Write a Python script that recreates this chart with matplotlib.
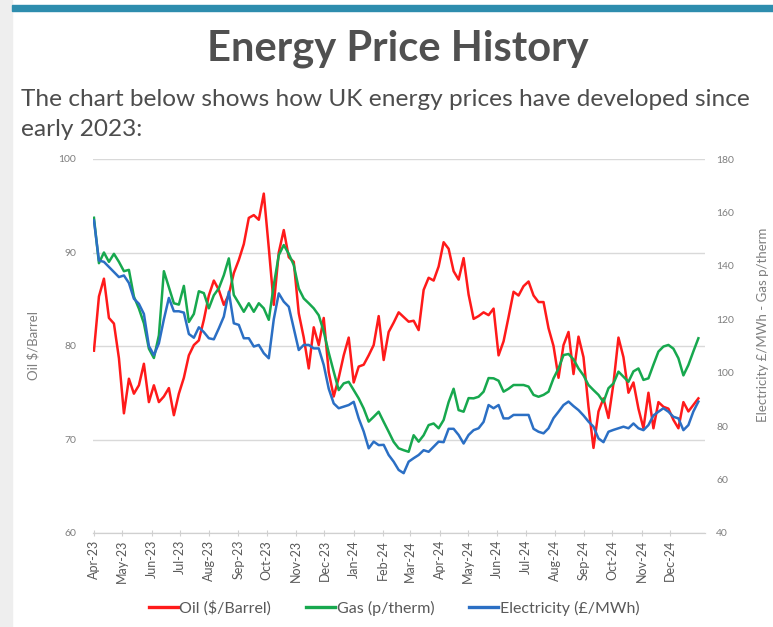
import pandas as pd
import matplotlib.pyplot as plt
import matplotlib.dates as mdates
from matplotlib.lines import Line2D
from matplotlib.patches import Rectangle

# series, roughly every 5 days from 1 Apr 2023 to 31 Dec 2024
oil = [79.5, 85.3, 87.2, 83.0, 82.4, 78.7, 72.8, 76.5, 74.9, 75.8,
       78.1, 74.0, 75.8, 74.0, 74.6, 75.5, 72.6, 74.9, 76.6, 79.0,
       80.1, 80.6, 82.8, 85.4, 87.0, 86.0, 84.4, 85.5, 87.8, 89.2,
       90.9, 93.7, 94.0, 93.5, 96.3, 90.5, 84.4, 90.0, 92.4, 89.5,
       89.0, 83.5, 80.9, 77.6, 82.0, 80.1, 83.0, 77.2, 74.6, 76.6,
       79.0, 80.9, 76.1, 77.8, 78.0, 79.0, 80.1, 83.2, 78.5, 81.5,
       82.5, 83.6, 83.1, 82.6, 82.7, 81.7, 86.0, 87.3, 87.0, 88.5,
       91.1, 90.4, 88.0, 87.1, 89.4, 85.5, 82.9, 83.2, 83.6, 83.3,
       84.0, 79.0, 80.5, 83.1, 85.8, 85.4, 86.4, 86.9, 85.4, 84.7,
       84.7, 81.9, 80.0, 76.6, 80.1, 81.5, 77.0, 81.0, 78.8, 73.5,
       69.1, 73.0, 74.4, 72.3, 76.0, 80.9, 78.8, 75.0, 76.1, 73.3,
       71.2, 75.0, 71.2, 74.0, 73.5, 73.3, 72.1, 71.2, 74.0, 73.0,
       73.7, 74.4]

gas = [158.0, 141.0, 145.0, 141.5, 144.5, 141.5, 138.0, 138.5, 128.5, 124.0,
       118.5, 109.0, 105.5, 114.0, 138.0, 132.0, 126.0, 125.5, 132.5, 119.0,
       122.0, 130.5, 129.8, 124.1, 129.0, 131.6, 136.5, 142.8, 129.1, 126.0,
       122.8, 126.0, 122.8, 126.0, 124.1, 119.8, 132.8, 144.0, 147.8, 144.5,
       140.3, 131.5, 127.8, 126.0, 124.1, 121.5, 115.4, 107.5, 100.4, 93.5,
       96.0, 96.6, 93.5, 90.4, 86.6, 81.7, 83.5, 85.4, 81.6, 77.9,
       74.1, 71.7, 71.0, 70.4, 76.6, 74.2, 76.6, 80.4, 81.0, 79.2,
       82.3, 89.0, 94.0, 86.0, 85.4, 90.5, 90.4, 91.0, 92.9, 98.0,
       97.9, 97.0, 92.9, 94.0, 95.4, 95.4, 95.4, 94.8, 91.7, 91.0,
       91.7, 92.9, 97.9, 101.6, 106.6, 107.0, 105.0, 101.6, 99.0, 95.4,
       93.5, 91.7, 89.0, 94.2, 96.0, 100.4, 98.5, 96.6, 100.5, 101.6,
       97.3, 97.9, 103.0, 107.9, 109.8, 110.4, 109.0, 105.4, 99.0, 102.9,
       108.0, 112.9]

electricity = [157.0, 142.0, 141.5, 139.6, 137.7, 135.8, 136.4, 133.6, 127.7, 125.8,
               122.0, 110.0, 106.6, 111.0, 120.0, 128.0, 123.0, 123.0, 122.5, 114.5,
               113.1, 117.0, 115.2, 112.9, 112.5, 116.6, 121.0, 130.3, 118.5, 117.9,
               112.9, 112.9, 109.8, 110.4, 107.3, 105.4, 120.0, 129.7, 126.6, 124.7,
               116.6, 108.5, 110.4, 110.4, 109.1, 109.1, 102.9, 94.0, 88.5, 86.7,
               87.3, 87.9, 89.1, 82.9, 78.0, 71.7, 74.2, 72.9, 73.0, 69.2,
               66.7, 63.6, 62.4, 66.7, 68.0, 69.2, 71.0, 70.4, 72.3, 74.2,
               74.0, 79.0, 79.0, 76.7, 73.5, 76.7, 78.5, 79.2, 81.6, 87.9,
               86.7, 87.9, 82.9, 82.9, 84.2, 84.2, 84.2, 84.2, 79.0, 77.9,
               77.3, 79.2, 83.0, 85.4, 87.9, 89.2, 87.5, 86.0, 84.0, 81.7,
               79.8, 75.4, 74.0, 77.9, 78.6, 79.2, 79.8, 79.2, 81.0, 79.2,
               78.5, 80.4, 84.0, 85.4, 86.7, 85.4, 83.5, 82.9, 78.5, 80.4,
               85.5, 89.2]

labels = ['Oil ($/Barrel)', 'Gas (p/therm)', 'Electricity (£/MWh)']
colors = ['#FF1A1A', '#17A84E', '#2B6FC4']

dates = pd.date_range('2023-04-01', '2024-12-31', periods=len(oil))

plt.rcParams['font.family'] = ['Lato', 'DejaVu Sans']

fig = plt.figure(figsize=(7.73, 6.27), dpi=100)
fig.patch.set_facecolor('white')

# page decoration: grey strip on the left, teal bar at the top
fig.patches.append(Rectangle((0, 0), 12 / 773, 1, transform=fig.transFigure,
                             color='#EEEEEE', zorder=0))
fig.patches.append(Rectangle((12 / 773, 1 - 11 / 627), 1, 6 / 627, transform=fig.transFigure,
                             color='#2E8DAE', zorder=0))

fig.text(0.515, 0.922, 'Energy Price History', ha='center', va='center',
         fontsize=30, fontweight='bold', color='#505050')
fig.text(0.027, 0.842, 'The chart below shows how UK energy prices have developed since',
         ha='left', va='center', fontsize=17.6, color='#4D4D4D')
fig.text(0.027, 0.794, 'early 2023:', ha='left', va='center', fontsize=17.6, color='#4D4D4D')

ax = fig.add_axes([93 / 773, 94 / 627, 612 / 773, 374 / 627])
ax2 = ax.twinx()

ax.plot(dates, oil, color=colors[0], lw=1.8)
ax2.plot(dates, gas, color=colors[1], lw=1.8)
ax2.plot(dates, electricity, color=colors[2], lw=1.8)

ax.set_ylim(60, 100)
ax.set_yticks([60, 70, 80, 90, 100])
ax2.set_ylim(40, 180)
ax2.set_yticks(range(40, 181, 20))
ax.set_xlim(pd.Timestamp('2023-03-31'), pd.Timestamp('2025-01-07'))

ax.set_xticks(pd.date_range('2023-04-01', '2024-12-01', freq='MS'))
ax.xaxis.set_major_formatter(mdates.DateFormatter('%b-%y'))
plt.setp(ax.get_xticklabels(), rotation=90)

ax.grid(axis='y', color='#D9D9D9', lw=1)
ax.set_axisbelow(True)
for a in (ax, ax2):
    for s in ('top', 'left', 'right'):
        a.spines[s].set_visible(False)
    a.spines['bottom'].set_color('#D0D0D0')
    a.tick_params(axis='y', length=0, labelsize=7.5, labelcolor='#7F7F7F')
ax.tick_params(axis='x', length=4, direction='inout', color='#D0D0D0',
               labelsize=9, labelcolor='#595959', pad=3)
ax.tick_params(axis='y', pad=12)
ax2.tick_params(axis='y', pad=8)

fig.text(33 / 773, 1 - 346 / 627, 'Oil $/Barrel', rotation=90, ha='center', va='center',
         fontsize=9.5, color='#7F7F7F')
fig.text(763 / 773, 1 - 325 / 627, 'Electricity £/MWh - Gas p/therm', rotation=90,
         ha='center', va='center', fontsize=9.5, color='#7F7F7F')

handles = [Line2D([], [], color=c, lw=2.4) for c in colors]
fig.legend(handles, labels, loc='center', bbox_to_anchor=(0.51, 1 - 608 / 627), ncol=3,
           frameon=False, fontsize=11.5, handlelength=1.8, handletextpad=0.1,
           columnspacing=2.2, labelcolor='#595959')

fig.savefig('out.png', dpi=100)
